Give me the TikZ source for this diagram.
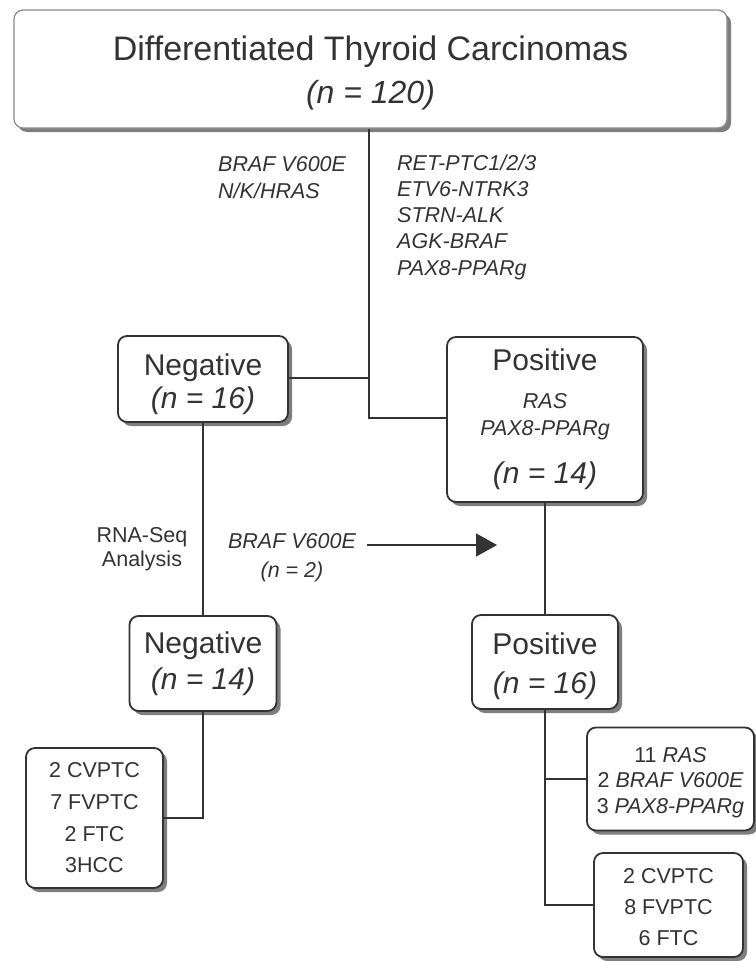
\documentclass[tikz,border=0pt]{standalone}
\usepackage{fontspec}
\setmainfont{Liberation Sans}
\usetikzlibrary{arrows.meta,shadows}
\definecolor{ink}{HTML}{333333}
\definecolor{shade}{HTML}{7E7E7E}
\definecolor{topframe}{HTML}{8A8A8A}
\begin{document}
\begin{tikzpicture}[x=1pt,y=-1pt,
  box/.style={draw=ink, line width=1.8pt, rounded corners=9pt, fill=white,
    align=center, inner sep=0pt, text=ink,
    drop shadow={shadow xshift=4pt, shadow yshift=-4pt, fill=shade, opacity=1}},
  lbl/.style={inner sep=0pt, text=ink},
  conn/.style={draw=ink, line width=1.6pt}]
\useasboundingbox (0,0) rectangle (755,961);

% boxes
\node[box, draw=topframe, line width=1.2pt, minimum width=713pt, minimum height=118pt,
  font=\fontsize{34}{42.6}\selectfont] (top) at (370.5,69)
  {\rule{0pt}{33pt}Differentiated Thyroid Carcinomas\\{\fontsize{32}{40}\selectfont\itshape (n = 120)}};

\node[box, minimum width=170pt, minimum height=86pt, font=\fontsize{30}{33}\selectfont]
  (neg1) at (203,379) {\rule{0pt}{31.3pt}Negative\\{\itshape (n = 16)}};

\node[box, minimum width=196pt, minimum height=165pt, font=\fontsize{21.5}{27}\selectfont]
  (pos1) at (545,419.5) {{\fontsize{30}{30}\selectfont Positive}\\[11pt]{\itshape RAS}\\{\itshape PAX8-PPARg}\\[21pt]{\fontsize{30}{30}\selectfont\itshape (n = 14)}};

\node[box, minimum width=147pt, minimum height=95pt, font=\fontsize{30}{36}\selectfont]
  (neg2) at (203,663.5) {Negative\\{\itshape (n = 14)}};

\node[box, minimum width=146pt, minimum height=94pt, font=\fontsize{30}{39}\selectfont]
  (pos2) at (545,662) {\rule{0pt}{29.3pt}Positive\\{\itshape (n = 16)}};

\node[box, minimum width=137pt, minimum height=140pt, font=\fontsize{21.5}{31.7}\selectfont]
  (histL) at (94.5,818) {2 CVPTC\\7 FVPTC\\2 FTC\\3HCC};

\node[box, minimum width=167pt, minimum height=103pt, font=\fontsize{21.5}{25.5}\selectfont]
  (mutB) at (670.5,779) {\rule{0pt}{22.4pt}11 {\itshape RAS}\\2 {\itshape BRAF V600E}\\3 {\itshape PAX8-PPARg}};

\node[box, minimum width=149pt, minimum height=104pt, font=\fontsize{21.5}{31}\selectfont]
  (histR) at (668.5,905) {\rule{0pt}{20pt}2 CVPTC\\8 FVPTC\\6 FTC};

% free labels
\node[lbl, anchor=north west, align=left, font=\fontsize{21.5}{27}\selectfont\itshape]
  (mutL) at (218,155) {\rule{0pt}{16pt}BRAF V600E\\N/K/HRAS};
\node[lbl, anchor=north west, align=left, font=\fontsize{21.5}{26.2}\selectfont\itshape]
  (mutR) at (397,154) {\rule{0pt}{16pt}RET-PTC1/2/3\\ETV6-NTRK3\\STRN-ALK\\AGK-BRAF\\PAX8-PPARg};
\node[lbl, anchor=north, align=center, font=\fontsize{21.5}{24}\selectfont]
  (rna) at (142,526) {\rule{0pt}{16pt}RNA-Seq\\Analysis};
\node[lbl, anchor=north, align=center, font=\fontsize{21.5}{29}\selectfont]
  (brafl) at (292,532) {\rule{0pt}{16pt}{\itshape BRAF V600E}\\{\itshape (n = 2)}};

% connectors
\coordinate (j1) at (369,378);
\coordinate (j2) at (369,418);
\draw[conn] (top.south -| j1) -- (j2) -- (j2 -| pos1.west);
\draw[conn] (j1 -| neg1.east) -- (j1);
\draw[conn] (neg1.south) -- (neg1.south |- neg2.north);
\draw[conn] (pos1.south) -- (pos2.north);
\draw[conn] (neg2.south) -- (neg2.south |- histL.east) -- (histL.east);
\draw[conn] (pos2.south) -- (pos2.south |- histR.west) -- (histR.west);
\draw[conn] (pos2.south |- mutB.west) -- (mutB.west);

\coordinate (as) at (367,545);
\coordinate (ae) at (497,545);
\draw[conn, -{Triangle[length=21pt,width=23pt]}] (as) -- (ae);
\end{tikzpicture}
\end{document}
